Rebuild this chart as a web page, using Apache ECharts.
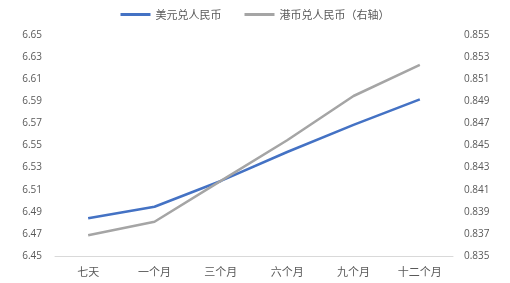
<!DOCTYPE html>
<html><head><meta charset="utf-8">
<script src="https://cdn.jsdelivr.net/npm/echarts@6/dist/echarts.min.js"></script>
<style>html,body{margin:0;padding:0;background:#fff}#c{width:510px;height:283px}</style>
</head><body><div id="c"></div>
<script>
const categories = ['七天','一个月','三个月','六个月','九个月','十二个月'];
const usdCny = [6.4841, 6.4946, 6.5179, 6.5441, 6.5686, 6.5918];
const hkdCny = [0.83687, 0.8381, 0.8418, 0.84547, 0.84948, 0.85229];
const leftTicks = ['6.45','6.47','6.49','6.51','6.53','6.55','6.57','6.59','6.61','6.63','6.65'];
const rightTicks = ['0.835','0.837','0.839','0.841','0.843','0.845','0.847','0.849','0.851','0.853','0.855'];
const seriesNames = ['美元兑人民币','港币兑人民币（右轴）'];

const chart = echarts.init(document.getElementById('c'));
const labelStyle = {color:'#595959', fontSize:10, fontFamily:'"Open Sans", "Noto Sans CJK SC", sans-serif'};
chart.setOption({
  animation:false,
  legend:{
    top:4, left:'center', itemWidth:30, itemHeight:3, itemGap:23,
    icon:'rect',
    textStyle:{color:'#595959', fontSize:11, fontFamily:'"Noto Sans CJK SC", sans-serif'},
    data:seriesNames
  },
  grid:{left:55, right:57, top:35, bottom:27},
  xAxis:{
    type:'category', data:categories, boundaryGap:true,
    axisLine:{lineStyle:{color:'#D9D9D9'}}, axisTick:{show:false},
    axisLabel:Object.assign({margin:10}, labelStyle, {fontSize:11, fontFamily:'"Noto Sans CJK SC", sans-serif'})
  },
  yAxis:[
    {type:'value', min:parseFloat(leftTicks[0]), max:parseFloat(leftTicks[leftTicks.length-1]), interval:0.02,
     splitLine:{show:false}, axisLine:{show:false}, axisTick:{show:false},
     axisLabel:Object.assign({margin:13, formatter:v=>v.toFixed(2)}, labelStyle)},
    {type:'value', min:parseFloat(rightTicks[0]), max:parseFloat(rightTicks[rightTicks.length-1]), interval:0.002,
     splitLine:{show:false}, axisLine:{show:false}, axisTick:{show:false},
     axisLabel:Object.assign({margin:11, formatter:v=>v.toFixed(3)}, labelStyle)}
  ],
  series:[
    {name:seriesNames[0], type:'line', data:usdCny, yAxisIndex:0, symbol:'none',
     lineStyle:{color:'#4472C4', width:2.5}, itemStyle:{color:'#4472C4'}},
    {name:seriesNames[1], type:'line', data:hkdCny, yAxisIndex:1, symbol:'none',
     lineStyle:{color:'#A5A5A5', width:2.5}, itemStyle:{color:'#A5A5A5'}}
  ]
});
</script></body></html>
